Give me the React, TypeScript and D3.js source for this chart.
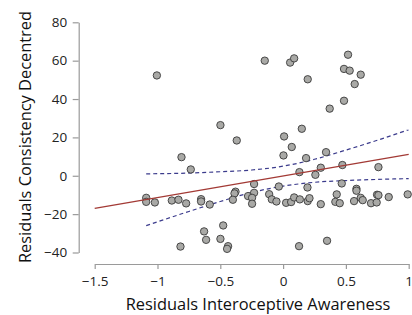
import React, { useRef, useEffect } from 'react';
import * as d3 from 'd3';

// scatter points: residual awareness (x) vs residual consistency (y)
const pointX = [
  -1.005, -0.146, 0.056, 0.088, 0.196, 0.517, 0.485, 0.53, 0.618, 0.57,
  0.485, 0.371, -0.499, -0.369, 0.149, 0.008, 0.069, 0.003, -0.809, -0.735,
  0.183, 0.342, 0.13, 0.3, 0.257, 0.472, 0.759, 0.467, 0.584, 0.584,
  0.194, -0.034, -0.231, -0.379, -0.387, -0.231, -0.111, -1.09, -1.09, -1.021,
  -0.886, -0.833, -0.772, -0.653, -0.653, -0.584, -0.4, -0.279, -0.247, -0.247,
  -0.09, -0.053, 0.024, 0.064, 0.088, 0.133, 0.196, 0.21, 0.3, 0.416,
  0.427, 0.451, 0.565, 0.618, 0.634, 0.7, 0.745, 0.748, 0.759, 0.841,
  0.992, -0.629, -0.613, -0.499, -0.477, -0.438, -0.446, -0.817, 0.127, 0.35,
];
const pointY = [
  52.3, 60, 59, 61.2, 50.3, 63.1, 55.7, 54.8, 52.7, 47.8,
  39.1, 35, 26.4, 18.4, 24.5, 20.5, 15, 10.6, 9.7, 3.3,
  9.2, 12.3, 1.9, 4.2, 0.5, 5.6, 4.5, -4, -6.8, -7.8,
  -6.1, -5.6, -4.3, -8.3, -9.2, -8.9, -9.6, -11.5, -13.6, -13.9,
  -12.9, -12.5, -14.4, -12.2, -13.4, -15, -12.5, -10.6, -11.5, -14.6,
  -12.3, -13.4, -14.1, -13.7, -11.3, -12.3, -13.2, -11.7, -14.8, -13.6,
  -9.7, -14.3, -13.2, -11.5, -12.7, -14.3, -13.9, -9.9, -10.1, -11.1,
  -9.7, -29, -33.4, -32.9, -25.9, -36.7, -38.1, -36.9, -36.7, -33.9,
];

// fitted line end points
const fitX = [-1.5, 1];
const fitY = [-17, 11.1];

// confidence band read at a few x positions
const bandX = [-1.09, -0.75, -0.5, -0.25, 0, 0.25, 0.5, 0.75, 1.0];
const bandUpper = [1.0, 1.4, 2.1, 3.0, 5.0, 8.6, 13.4, 18.5, 24];
const bandLower = [-26, -18.6, -13.4, -8.7, -5.4, -3.4, -2.5, -1.9, -1.5];

const xTicks = [-1.5, -1, -0.5, 0, 0.5, 1];
const yTicks = [-40, -20, 0, 20, 40, 60, 80];

const xTitle = 'Residuals Interoceptive Awareness';
const yTitle = 'Residuals Consistency Decentred';

const W = 412;
const H = 315;
const font = '"Open Sans", "DejaVu Sans", sans-serif';

const App = () => {
  const svgRef = useRef<SVGSVGElement>(null);

  useEffect(() => {
    const svg = d3.select(svgRef.current);
    svg.selectAll('*').remove();

    const x = d3.scaleLinear().domain([-1.5, 1]).range([94.7, 408.7]);
    const y = d3.scaleLinear().domain([-40, 80]).range([252.5, 22.3]);

    const axisColor = '#9a9a9a';
    const minus = (d: any) => String(d).replace('-', '\u2212');

    // y axis
    const yAxis = svg.append('g')
      .attr('transform', 'translate(78.7,0)')
      .call(d3.axisLeft(y).tickValues(yTicks).tickSize(6).tickSizeOuter(0).tickFormat(minus));
    yAxis.select('.domain').attr('stroke', axisColor).attr('stroke-width', 1.2);
    yAxis.selectAll('line').attr('stroke', axisColor).attr('stroke-width', 1.2);
    yAxis.selectAll('text')
      .attr('fill', '#222')
      .style('font-family', font)
      .style('font-size', '13.5px')
      .attr('x', -11.5);

    // x axis
    const xAxis = svg.append('g')
      .attr('transform', 'translate(0,264)')
      .call(d3.axisBottom(x).tickValues(xTicks).tickSize(5).tickSizeOuter(0).tickFormat(minus));
    xAxis.select('.domain').attr('stroke', axisColor).attr('stroke-width', 1.2);
    xAxis.selectAll('line').attr('stroke', axisColor).attr('stroke-width', 1.2);
    xAxis.selectAll('text')
      .attr('fill', '#222')
      .style('font-family', font)
      .style('font-size', '13.5px')
      .attr('y', 12);

    // axis titles
    svg.append('text')
      .attr('x', 258)
      .attr('y', 309.5)
      .attr('text-anchor', 'middle')
      .attr('fill', '#111')
      .style('font-family', font)
      .style('font-size', '16.4px')
      .text(xTitle);

    svg.append('text')
      .attr('transform', 'translate(30.5,137) rotate(-90)')
      .attr('text-anchor', 'middle')
      .attr('fill', '#111')
      .style('font-family', font)
      .style('font-size', '16.4px')
      .text(yTitle);

    const band = bandX.map((bx, i) => ({ x: bx, hi: bandUpper[i], lo: bandLower[i] }));
    const dashed = (acc: (d: any) => number) =>
      d3.line<any>().x(d => x(d.x)).y(d => y(acc(d))).curve(d3.curveMonotoneX);

    svg.append('path')
      .datum(band)
      .attr('fill', 'none')
      .attr('stroke', '#3b3b8c')
      .attr('stroke-width', 1.2)
      .attr('stroke-dasharray', '4,3')
      .attr('d', dashed(d => d.hi));

    svg.append('path')
      .datum(band)
      .attr('fill', 'none')
      .attr('stroke', '#3b3b8c')
      .attr('stroke-width', 1.2)
      .attr('stroke-dasharray', '4,3')
      .attr('d', dashed(d => d.lo));

    // points
    const pts = pointX.map((px, i) => ({ x: px, y: pointY[i] }));
    svg.selectAll('.dot')
      .data(pts)
      .join('circle')
      .attr('class', 'dot')
      .attr('cx', d => x(d.x))
      .attr('cy', d => y(d.y))
      .attr('r', 3.7)
      .attr('fill', '#a9a9a6')
      .attr('stroke', '#3a3a3a')
      .attr('stroke-width', 0.9);

    // fitted line
    const fit = fitX.map((fx, i) => ({ x: fx, y: fitY[i] }));
    svg.append('path')
      .datum(fit)
      .attr('fill', 'none')
      .attr('stroke', '#a33a35')
      .attr('stroke-width', 1.3)
      .attr('d', d3.line<any>().x(d => x(d.x)).y(d => y(d.y)));
  }, []);

  return (
    <div style={{ position: 'absolute', left: 0, top: 0, width: W, height: H, background: '#fff', overflow: 'hidden' }}>
      <svg ref={svgRef} width={W} height={H} style={{ display: 'block' }} />
    </div>
  );
};

export default App;
